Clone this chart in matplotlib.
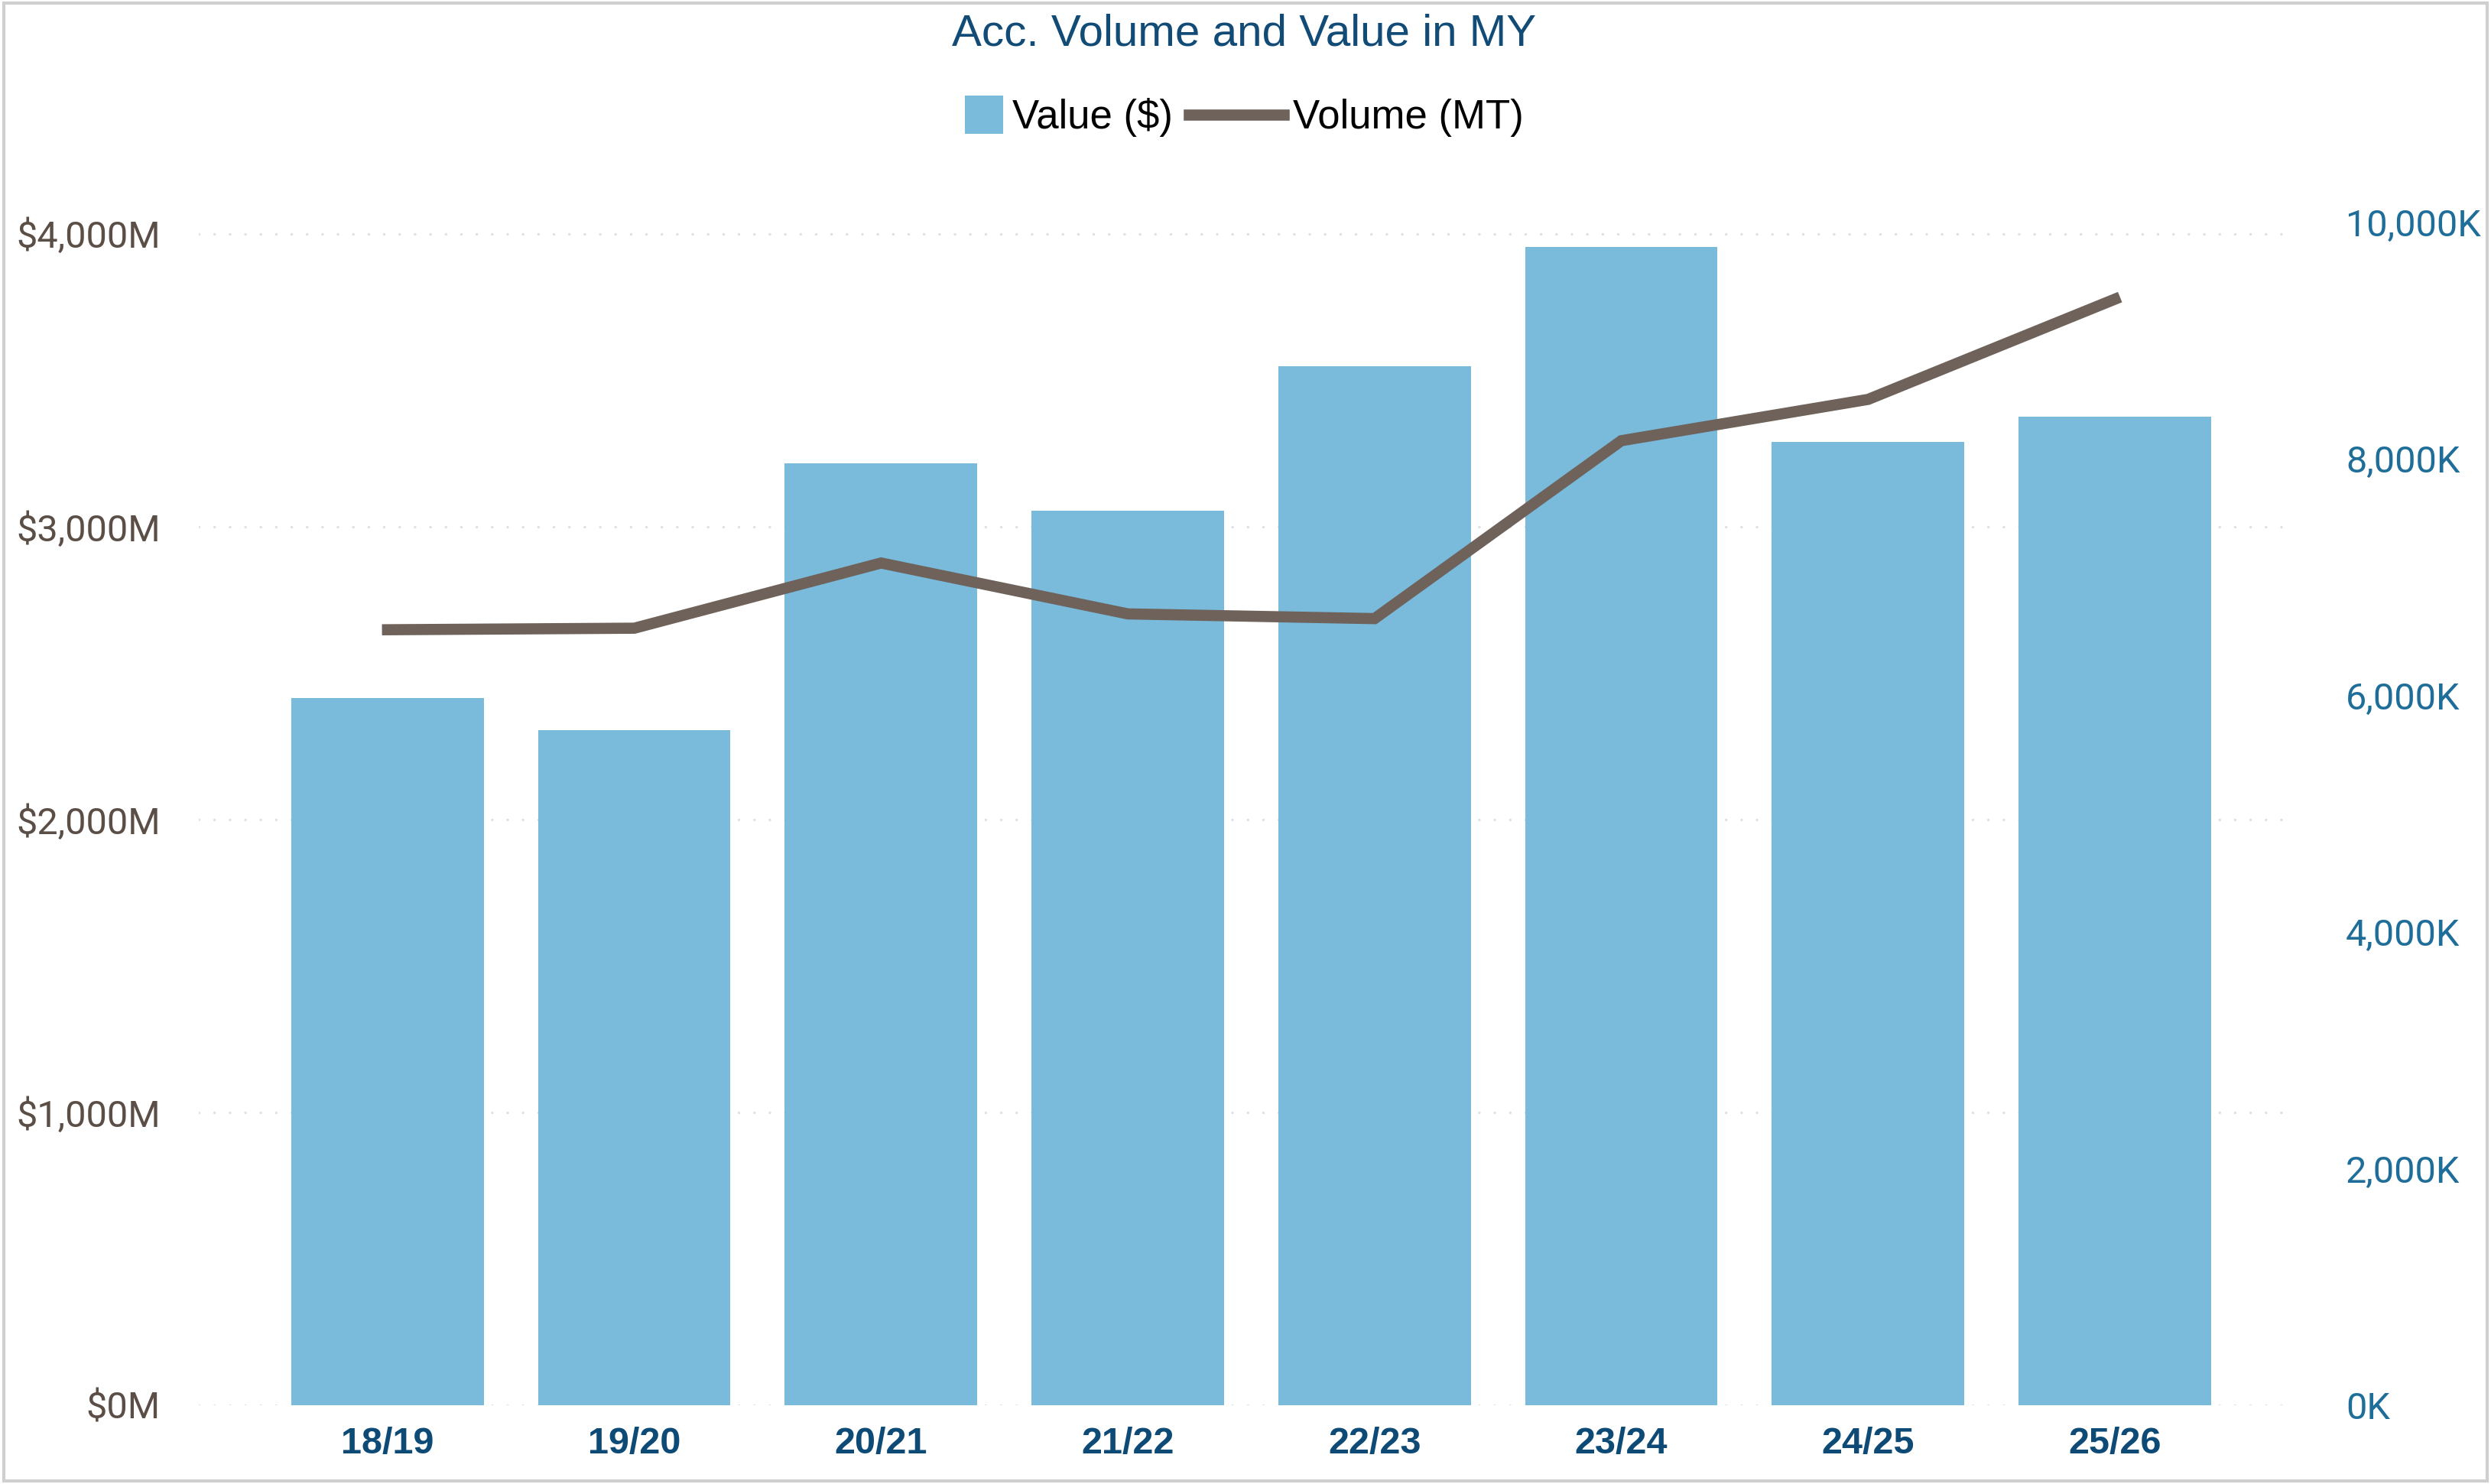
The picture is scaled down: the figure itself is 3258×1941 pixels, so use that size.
import numpy as np
import matplotlib.pyplot as plt
import matplotlib.patches as mpatches
from matplotlib.legend_handler import HandlerPatch
from matplotlib.ticker import FuncFormatter

# marketing years
years = ["18/19", "19/20", "20/21", "21/22", "22/23", "23/24", "24/25", "25/26"]
# accumulated value, $ millions
value_m = [2414, 2306, 3217, 3055, 3548, 3955, 3288, 3375]
# accumulated volume, thousand MT
volume_k = [6555, 6568, 7119, 6689, 6649, 8153, 8502, 9349]

BAR_C = "#7ABADB"
LINE_C = "#6E625A"
TITLE_C = "#114B76"
XTICK_C = "#0D4A75"
LTICK_C = "#5A4E46"
RTICK_C = "#1F6E99"

fig = plt.figure(figsize=(32.58, 19.41), dpi=100)
ax = fig.add_axes([0.0798, 0.0531, 0.9217 - 0.0798, 0.8080])
ax2 = ax.twinx()

x = np.arange(len(years))
bars = ax.bar(x, value_m, width=0.78, color=BAR_C, zorder=2)
line, = ax2.plot(x, volume_k, color=LINE_C, lw=10.5, solid_joinstyle="miter", zorder=3)

# axes heights: px from bottom (1838) to top (270)
L = 1838 - 270
ax.set_ylim(0, 4000 * L / 1532)
ax2.set_ylim(0, 10000 * L / 1547)
ax.set_xlim(-0.765, 7.734)

ax.set_yticks([0, 1000, 2000, 3000, 4000])
ax.yaxis.set_major_formatter(FuncFormatter(lambda v, p: f"${v:,.0f}M"))
ax2.set_yticks([0, 2000, 4000, 6000, 8000, 10000])
ax2.yaxis.set_major_formatter(FuncFormatter(lambda v, p: f"{v:,.0f}K"))

ax.set_xticks(x)
ax.set_xticklabels(years, fontfamily="Liberation Sans", fontweight="bold",
                   fontsize=35, color=XTICK_C)
ax.tick_params(axis="x", length=0, pad=20)
ax.tick_params(axis="y", length=0, pad=36, labelcolor=LTICK_C, labelsize=35)
ax2.tick_params(axis="y", length=0, pad=47, labelcolor=RTICK_C, labelsize=35)
for lab in ax.get_yticklabels() + ax2.get_yticklabels():
    lab.set_fontfamily("Roboto")

ax.grid(axis="y", color="#E0E0E0", lw=2.5, linestyle=(0, (0.01, 5.8)),
        dash_capstyle="round", zorder=0)
ax.set_axisbelow(True)
for a in (ax, ax2):
    for s in a.spines.values():
        s.set_visible(False)
ax.set_zorder(ax2.get_zorder() - 1)
ax2.patch.set_visible(False)
ax.patch.set_visible(False)

fig.text(0.4995, 0.991, "Acc. Volume and Value in MY", ha="center", va="top",
         fontfamily="Liberation Sans", fontsize=42, color=TITLE_C)


def square_patch(legend, orig_handle, xdescent, ydescent, width, height, fontsize):
    s = height * 1.35
    return mpatches.Rectangle((-xdescent + width - s, -ydescent + height / 2 - s / 2), s, s)


leg = fig.legend([bars.patches[0], line], ["Value ($)", "Volume (MT)"], loc="center",
                 bbox_to_anchor=(0.488, 0.9208), ncol=2, frameon=False,
                 prop={"family": "Liberation Sans", "size": 38},
                 handlelength=2.36, handletextpad=0.22, columnspacing=0.4,
                 handler_map={mpatches.Rectangle: HandlerPatch(patch_func=square_patch)})

# light frame around the visual
fig.patches.append(mpatches.Rectangle((0.0015, 0.002), 0.997, 0.996, transform=fig.transFigure,
                                      fill=False, edgecolor="#CFCFCF", lw=3))

fig.savefig("out.png", dpi=100)
